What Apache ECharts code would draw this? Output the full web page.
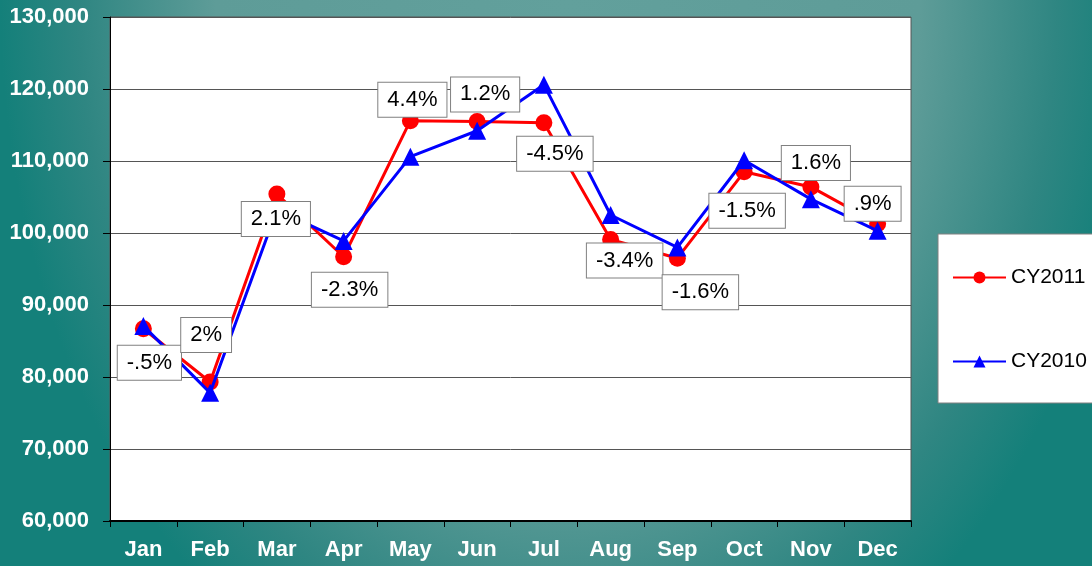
<!DOCTYPE html>
<html>
<head>
<meta charset="utf-8">
<script src="https://cdn.jsdelivr.net/npm/echarts@6/dist/echarts.min.js"></script>
<style>
  html, body { margin: 0; padding: 0; width: 1092px; height: 566px; overflow: hidden; }
  body {
    background:
      radial-gradient(ellipse 52% 135% at 52% 0%, #62a09c 0%, #5e9c98 62%, #2f8682 86%, #14807a 100%);
    background-color: #2a8580;
  }
  #chart { width: 1092px; height: 566px; }
</style>
</head>
<body>
<div id="chart"></div>
<script>
const categories = ['Jan', 'Feb', 'Mar', 'Apr', 'May', 'Jun', 'Jul', 'Aug', 'Sep', 'Oct', 'Nov', 'Dec'];
const cy2011 = [86700, 79300, 105400, 96700, 115600, 115500, 115300, 99100, 96500, 108500, 106400, 101300];
const cy2010 = [87100, 77800, 103200, 98900, 110600, 114200, 120600, 102500, 98000, 110100, 104700, 100300];
const pctLabels = ['-.5%', '2%', '2.1%', '-2.3%', '4.4%', '1.2%', '-4.5%', '-3.4%', '-1.6%', '-1.5%', '1.6%', '.9%'];
const seriesNames = ['CY2011', 'CY2010'];

// label box offsets relative to the CY2011 point (layout only)
const labelOffsets = [[6, 34], [-4, -47], [-1, 25], [6, 33], [2, -21], [8, -27], [11, 31], [14, 21], [23, 34], [3, 39], [5, -24], [-5, -20]];

const font = 'Arial, "Liberation Sans", sans-serif';

const chart = echarts.init(document.getElementById('chart'), null, { renderer: 'canvas' });

chart.setOption({
  backgroundColor: 'transparent',
  animation: false,
  grid: {
    left: 110, right: 181, top: 17, bottom: 45,
    show: true, backgroundColor: '#ffffff', borderColor: '#555555', borderWidth: 1
  },
  legend: {
    data: seriesNames,
    orient: 'vertical',
    left: 938, top: 234,
    padding: [33, 40, 31, 14],
    itemGap: 63,
    itemWidth: 53, itemHeight: 15,
    backgroundColor: '#ffffff',
    borderColor: '#808080', borderWidth: 1,
    textStyle: { fontFamily: font, fontSize: 21, color: '#000000' }
  },
  xAxis: {
    type: 'category',
    data: categories,
    boundaryGap: true,
    axisLine: { lineStyle: { color: '#000000', width: 2 } },
    axisTick: { show: true, interval: 0, length: 6, lineStyle: { color: '#000000' } },
    axisLabel: { interval: 0, color: '#ffffff', fontFamily: font, fontWeight: 'bold', fontSize: 22, margin: 18 },
    splitLine: { show: false }
  },
  yAxis: {
    type: 'value',
    min: 60000, max: 130000, interval: 10000,
    axisLine: { show: true, lineStyle: { color: '#000000', width: 1 } },
    axisTick: { show: true, length: 7, lineStyle: { color: '#000000' } },
    axisLabel: {
      color: '#ffffff', fontFamily: font, fontWeight: 'bold', fontSize: 22, margin: 21,
      formatter: v => v.toLocaleString('en-US')
    },
    splitLine: { show: true, lineStyle: { color: '#555555', width: 1 } }
  },
  series: [
    {
      name: seriesNames[0],
      type: 'line',
      data: cy2011,
      z: 2,
      symbol: 'circle', symbolSize: 17,
      lineStyle: { color: '#ff0000', width: 3 },
      itemStyle: { color: '#ff0000' }
    },
    {
      name: seriesNames[1],
      type: 'line',
      data: cy2010,
      z: 3,
      symbol: 'triangle', symbolSize: 18,
      lineStyle: { color: '#0000ff', width: 3 },
      itemStyle: { color: '#0000ff' }
    },
    {
      name: 'pct',
      type: 'scatter',
      data: cy2011,
      z: 10,
      silent: true,
      symbolSize: 2,
      itemStyle: { color: 'rgba(0,0,0,0)', opacity: 1 },
      label: {
        show: true,
        position: 'inside',
        formatter: p => pctLabels[p.dataIndex],
        fontFamily: font, fontSize: 22, color: '#000000',
        lineHeight: 22,
        backgroundColor: '#ffffff',
        borderColor: '#808080', borderWidth: 1,
        padding: [6, 9, 6, 9]
      },
      labelLayout: p => ({
        dx: labelOffsets[p.dataIndex][0],
        dy: labelOffsets[p.dataIndex][1],
        hideOverlap: false
      })
    }
  ]
});
</script>
</body>
</html>
